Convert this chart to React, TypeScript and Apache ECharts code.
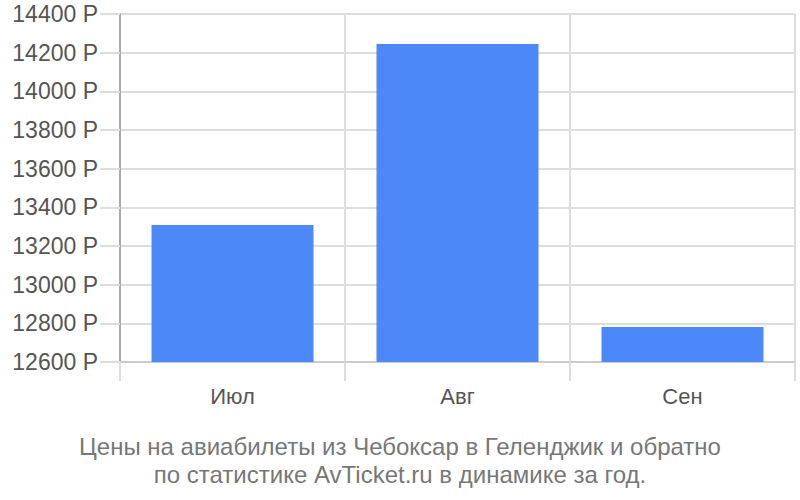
import React, { useEffect, useRef } from "react";
import * as echarts from "echarts";

const categories = ["Июл", "Авг", "Сен"];
const prices = [13309, 14245, 12781];
const yMin = 12600;
const yMax = 14400;
const yStep = 200;
const captionLines = [
  "Цены на авиабилеты из Чебоксар в Геленджик и обратно",
  "по статистике AvTicket.ru в динамике за год.",
];

export default function App() {
  const ref = useRef<HTMLDivElement>(null);
  useEffect(() => {
    if (!ref.current) return;
    const chart = echarts.init(ref.current, null, { renderer: "svg" });
    chart.setOption({
      animation: false,
      backgroundColor: "#ffffff",
      title: {
        text: captionLines.join("\n"),
        left: "center",
        top: 427,
        textStyle: {
          fontFamily: "Liberation Sans, Arial, sans-serif",
          fontSize: 24,
          fontWeight: "normal",
          color: "#777777",
          lineHeight: 28,
        },
      },
      grid: { left: 120, right: 5, top: 14, bottom: 138, containLabel: false },
      xAxis: {
        type: "category",
        data: categories,
        boundaryGap: true,
        axisLine: { show: true, lineStyle: { color: "#cccccc", width: 2 } },
        axisTick: { show: true, length: 19, lineStyle: { color: "#dddddd", width: 2 } },
        splitLine: { show: true, lineStyle: { color: "#dddddd", width: 2 } },
        axisLabel: {
          color: "#555555",
          fontSize: 22,
          fontFamily: "Liberation Sans, Arial, sans-serif",
          margin: 23,
        },
      },
      yAxis: {
        type: "value",
        min: yMin,
        max: yMax,
        interval: yStep,
        axisLine: { show: true, lineStyle: { color: "#aaaaaa", width: 2 } },
        axisTick: { show: true, length: 20, lineStyle: { color: "#dddddd", width: 2 } },
        splitLine: { show: true, lineStyle: { color: "#dddddd", width: 2 } },
        axisLabel: {
          color: "#555555",
          fontSize: 23,
          fontFamily: "Liberation Sans, Arial, sans-serif",
          margin: 22,
          formatter: (v: number) => `${v} Р`,
        },
      },
      series: [
        {
          type: "bar",
          data: prices,
          barWidth: "72%",
          itemStyle: { color: "#4d88f9" },
        },
      ],
    });
    return () => chart.dispose();
  }, []);
  return <div ref={ref} style={{ width: 800, height: 500, position: "absolute", left: 0, top: 0 }} />;
}
